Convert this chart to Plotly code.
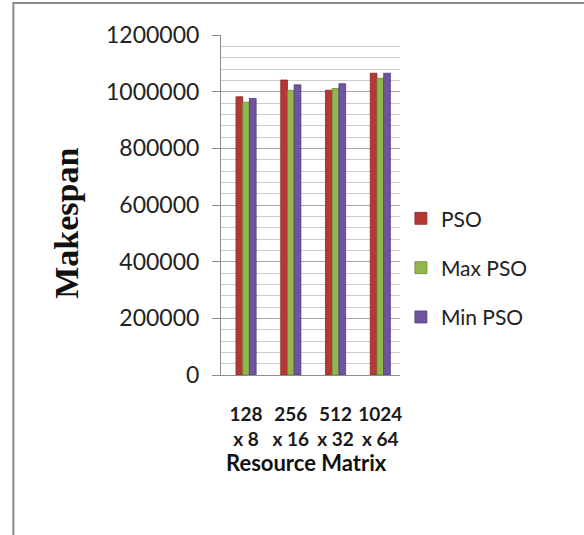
import plotly.graph_objects as go

# Resource matrix sizes (tasks x resources) and the makespan of each PSO variant
categories = ["128 x 8", "256 x 16", "512 x 32", "1024 x 64"]
tick_labels = ["128<br>x 8", "256<br>x 16", "512<br>x 32", "1024<br>x 64"]
pso = [982000, 1041000, 1005000, 1065000]
max_pso = [963000, 1005000, 1011000, 1047000]
min_pso = [976000, 1024000, 1028000, 1065000]

series = [
    ("PSO", pso, "#B53835", "#8A2926"),
    ("Max PSO", max_pso, "#90B64C", "#6A8A34"),
    ("Min PSO", min_pso, "#7154A0", "#4F3A7A"),
]

fig = go.Figure()
for name, vals, fill, edge in series:
    fig.add_trace(go.Bar(
        x=categories, y=vals, name=name,
        marker=dict(color=fill, line=dict(color=edge, width=0.8)),
        legendgroup=name,
    ))

body_font = "Lato, Carlito, Calibri, sans-serif"

fig.update_layout(
    width=584, height=535,
    margin=dict(l=221, r=184, t=35, b=160),
    paper_bgcolor="white", plot_bgcolor="white",
    barmode="group", bargap=0.55, bargroupgap=0,
    showlegend=True,
    legend=dict(
        x=1.005, xanchor="left", y=0.52, yanchor="top",
        font=dict(family=body_font, size=21, color="#222"),
        tracegroupgap=19, bgcolor="rgba(0,0,0,0)",
    ),
    xaxis=dict(
        tickmode="array", tickvals=categories, ticktext=tick_labels,
        range=[-0.56, 3.44],
        showline=True, linecolor="#8C8C8C", linewidth=1,
        ticks="", showgrid=False,
        tickfont=dict(family=body_font, size=19, color="#1A1A1A", weight="bold"),
        ticklabelstandoff=22,
    ),
    yaxis=dict(
        range=[0, 1200000], dtick=200000, tickformat="d",
        showline=True, linecolor="#8C8C8C", linewidth=1,
        ticks="outside", ticklen=8, tickcolor="#8C8C8C",
        ticklabelstandoff=8,
        showgrid=True, gridcolor="#A6A6A6", gridwidth=1,
        minor=dict(dtick=40000, showgrid=True, gridcolor="#CDCDCD", gridwidth=1),
        tickfont=dict(family=body_font, size=23, color="#222"),
        zeroline=False,
    ),
    annotations=[
        dict(text="<b>Makespan</b>", textangle=-90,
             xref="paper", yref="paper", x=-0.86, y=0.445,
             xanchor="center", yanchor="middle", showarrow=False,
             font=dict(family="Liberation Serif, Times New Roman, serif", size=34, color="#111")),
        dict(text="<b>Resource Matrix</b>",
             xref="paper", yref="paper", x=0.48, y=-0.256,
             xanchor="center", yanchor="middle", showarrow=False,
             font=dict(family=body_font, size=22, color="#111")),
    ],
    shapes=[
        # outer frame: left and top edges visible
        dict(type="rect", xref="paper", yref="paper",
             x0=-1.16, x1=2.2, y0=-0.6, y1=1.094,
             line=dict(color="#8A8A8A", width=2), layer="below"),
    ],
)

fig.write_html("out.html")
